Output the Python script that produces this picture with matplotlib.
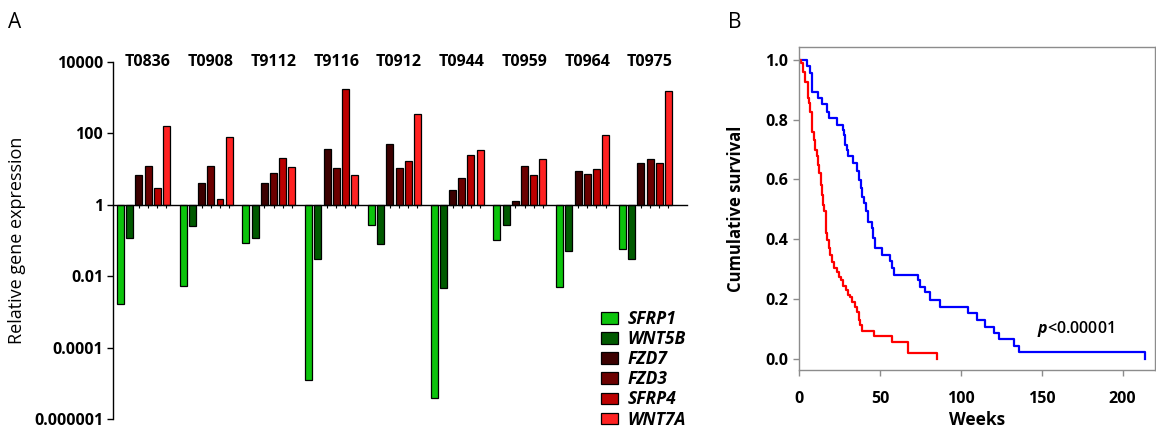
import matplotlib.pyplot as plt
import numpy as np
from matplotlib.patches import Patch

plt.rcParams['font.family'] = ['Open Sans', 'DejaVu Sans']
plt.rcParams['mathtext.fontset'] = 'custom'
plt.rcParams['mathtext.it'] = 'Open Sans:italic:bold'
plt.rcParams['mathtext.rm'] = 'Open Sans'

# panel A data: relative expression (log scale) per tumour
tumours = ['T0836', 'T0908', 'T9112', 'T9116', 'T0912', 'T0944', 'T0959', 'T0964', 'T0975']
genes = ['SFRP1', 'WNT5B', 'FZD7', 'FZD3', 'SFRP4', 'WNT7A']
gene_colors = ['#0cc40c', '#005a00', '#3c0000', '#6c0000', '#bc0000', '#ff2222']

sfrp1 = [0.0017, 0.0052, 0.083, 0.000012, 0.28, 0.0000038, 0.10, 0.0049, 0.056]
wnt5b = [0.12, 0.25, 0.115, 0.030, 0.078, 0.0047, 0.28, 0.052, 0.030]
fzd7 = [6.8, 4.1, 4.1, 36, 52, 2.6, 1.3, 8.7, 14.8]
fzd3 = [12, 12, 7.8, 10.7, 10.7, 5.6, 12, 7.2, 19]
sfrp4 = [3.0, 1.5, 20, 1800, 16.6, 24.5, 6.8, 10, 14.8]
wnt7a = [165, 78, 11.5, 6.8, 360, 34, 19, 93, 1550]
expression = [sfrp1, wnt5b, fzd7, fzd3, sfrp4, wnt7a]

# panel B data: Kaplan-Meier curves (weeks, cumulative survival)
blue_weeks = [0, 5.2, 6.8, 8.0, 12.0, 14.0, 17.1, 18.8, 23.7, 27.0, 28.0, 28.4, 29.5, 30.5,
              33.2, 35.7, 37.3, 38.1, 38.8, 40.2, 41.2, 42.5, 44.9, 46.0, 47.0, 51.1, 56.3,
              57.3, 58.8, 73.4, 74.8, 77.9, 81.0, 87.2, 104.7, 109.9, 115.0, 120.2, 123.3,
              133.0, 136.1, 214.0]
blue_surv = [1.0, 0.98, 0.955, 0.894, 0.872, 0.852, 0.827, 0.805, 0.783, 0.766, 0.749, 0.716,
             0.699, 0.677, 0.654, 0.627, 0.599, 0.571, 0.543, 0.521, 0.493, 0.459, 0.437,
             0.404, 0.370, 0.348, 0.326, 0.303, 0.281, 0.264, 0.242, 0.225, 0.197, 0.175,
             0.153, 0.130, 0.108, 0.086, 0.066, 0.043, 0.022, 0.0]
red_weeks = [0, 1.2, 2.5, 3.7, 5.4, 6.2, 7.0, 7.8, 8.2, 9.3, 9.9, 11.1, 11.9, 12.6, 13.4,
             14.0, 14.6, 15.3, 16.4, 16.9, 17.5, 18.3, 19.2, 20.2, 21.9, 23.3, 24.7, 26.0,
             27.4, 28.9, 30.1, 31.5, 33.0, 34.6, 36.1, 37.3, 38.0, 38.8, 46.6, 57.7, 67.6, 85.1]
red_surv = [1.0, 0.989, 0.961, 0.927, 0.872, 0.855, 0.827, 0.799, 0.760, 0.732, 0.699, 0.677,
            0.649, 0.621, 0.582, 0.548, 0.515, 0.493, 0.459, 0.420, 0.398, 0.370, 0.348,
            0.325, 0.303, 0.292, 0.275, 0.264, 0.244, 0.231, 0.214, 0.206, 0.192, 0.175,
            0.158, 0.130, 0.115, 0.095, 0.077, 0.056, 0.021, 0.0]

fig = plt.figure(figsize=(11.56, 4.28), dpi=100)

# ---- panel A ----
ax = fig.add_axes([113 / 1156, 9 / 428, 574 / 1156, 357 / 428])
group_step = 6.82
group_pos = np.arange(len(tumours)) * group_step
all_x = []
handles = []
for i, vals in enumerate(expression):
    x = group_pos + i
    all_x.extend(x)
    vals = np.array(vals)
    ax.bar(x, vals - 1, bottom=1, width=0.76, color=gene_colors[i],
           edgecolor='black', linewidth=0.9, zorder=2)
    handles.append(Patch(facecolor=gene_colors[i], edgecolor='black', linewidth=0.9))

ax.set_yscale('log')
ax.set_ylim(1e-6, 1e4)
ax.set_xlim(-0.81, 61.58)
ax.set_yticks([1e-6, 1e-4, 1e-2, 1, 100, 1e4])
ax.set_yticklabels(['0.000001', '0.0001', '0.01', '1', '100', '10000'],
                   fontweight='bold', fontsize=11.5)
ax.minorticks_off()
ax.set_xticks(sorted(all_x))
ax.set_xticklabels([])
ax.spines['bottom'].set_position(('data', 1))
ax.spines['top'].set_visible(False)
ax.spines['right'].set_visible(False)
ax.spines['left'].set_linewidth(1.0)
ax.spines['bottom'].set_linewidth(1.0)
ax.tick_params(axis='y', length=4, width=1.0, pad=3)
ax.tick_params(axis='x', length=2.5, width=0.8, direction='out')
ax.set_ylabel('Relative gene expression', fontsize=13, labelpad=6)

for g, name in zip(group_pos, tumours):
    ax.text(g + 3, 1e4, name, ha='center', va='center', fontsize=11.5, fontweight='bold')

ax.legend(handles, genes, loc='upper left', bbox_to_anchor=(0.85, 0.305),
          frameon=False, handlelength=1.0, handleheight=0.65, handletextpad=0.55,
          labelspacing=0.12, borderpad=0, borderaxespad=0,
          prop={'weight': 'bold', 'style': 'italic', 'size': 12.5})

fig.text(15 / 1156, 1 - 22 / 428, 'A', fontsize=15, ha='center', va='center')

# ---- panel B ----
bx = fig.add_axes([799 / 1156, 58 / 428, 356 / 1156, 323 / 428])
bx.step(blue_weeks, blue_surv, where='post', color='#0000ff', linewidth=1.6)
bx.step(red_weeks, red_surv, where='post', color='#ff0000', linewidth=1.6)
bx.set_xlim(0, 220)
bx.set_ylim(-0.037, 1.043)
bx.set_xticks([0, 50, 100, 150, 200])
bx.set_yticks([0, 0.2, 0.4, 0.6, 0.8, 1.0])
bx.set_yticklabels(['0.0', '0.2', '0.4', '0.6', '0.8', '1.0'])
for lab in bx.get_xticklabels() + bx.get_yticklabels():
    lab.set_fontweight('bold')
    lab.set_fontsize(11.5)
for sp in bx.spines.values():
    sp.set_color('#8c8c8c')
    sp.set_linewidth(1.0)
bx.tick_params(length=4, width=1.0, color='#8c8c8c', pad=4)
bx.tick_params(axis='x', pad=11)
bx.set_xlabel('Weeks', fontsize=12.5, fontweight='bold', labelpad=3)
bx.set_ylabel('Cumulative survival', fontsize=12, fontweight='bold', labelpad=14)
bx.text(147, 0.10, r'$p$<0.00001', fontsize=11.5, fontweight='semibold',
        ha='left', va='center')

fig.text(735 / 1156, 1 - 22 / 428, 'B', fontsize=15, ha='center', va='center')

fig.savefig('out.png', dpi=100)
